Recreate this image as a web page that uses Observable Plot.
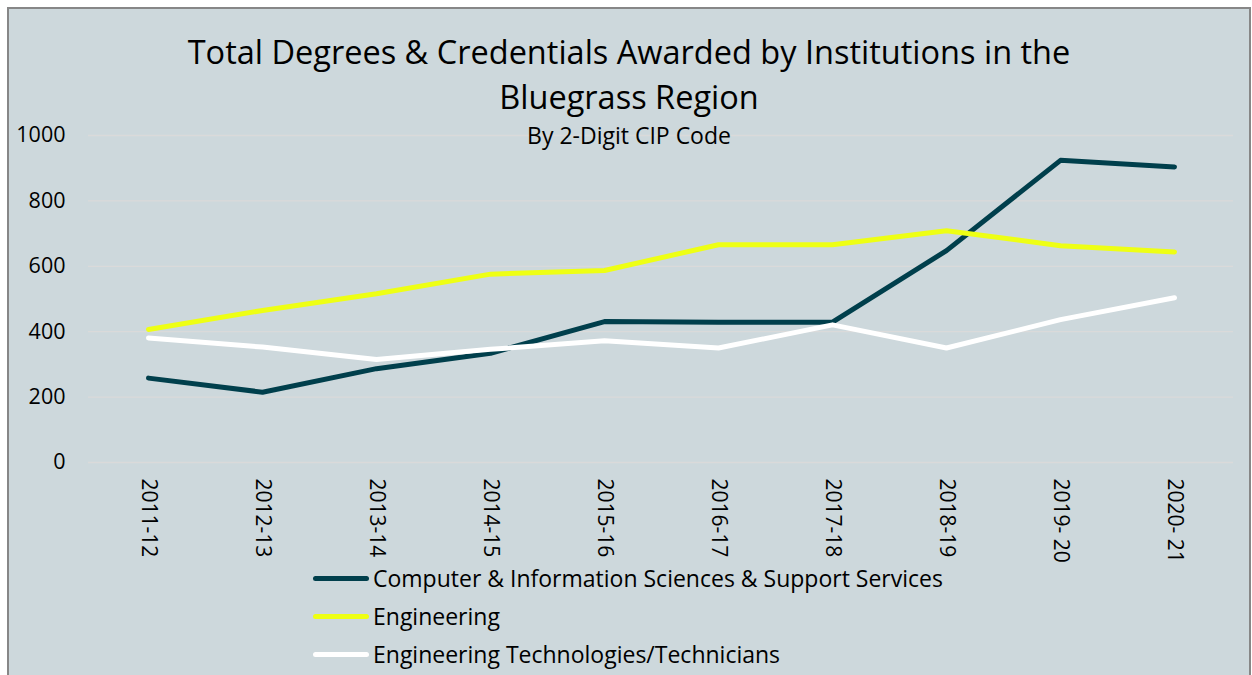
<!DOCTYPE html>
<html>
<head>
<meta charset="utf-8">
<script src="https://cdn.jsdelivr.net/npm/d3@7"></script>
<script src="https://cdn.jsdelivr.net/npm/@observablehq/plot@0.6"></script>
<style>
  html, body { margin: 0; padding: 0; background: #ffffff; }
  body { font-family: "Open Sans", "Noto Sans", sans-serif; color: #000; }
  #frame {
    position: absolute; left: 7px; top: 7px;
    width: 1240px; height: 680px;
    border: 2px solid #878787; background: #cdd8dc; overflow: hidden;
  }
  #title {
    position: absolute; left: 0; width: 100%; top: 21px;
    text-align: center; font-size: 32.5px; line-height: 44.5px;
  }
  #subtitle {
    position: absolute; left: 0; width: 100%; top: 112px;
    text-align: center; font-size: 23px; line-height: 28px;
  }
  #chart { position: absolute; left: 0; top: 0; }
  #legend { position: absolute; left: 304px; top: 550px; }
  .row { display: flex; align-items: center; height: 38px; font-size: 23px; }
  .sw { width: 56px; height: 5px; border-radius: 3px; margin-right: 4px; }
</style>
</head>
<body>
<div id="frame">
  <div id="chart"></div>
  <div id="title">Total Degrees &amp; Credentials Awarded by Institutions in the<br>Bluegrass Region</div>
  <div id="subtitle">By 2-Digit CIP Code</div>
  <div id="legend"></div>
</div>
<script>
const years = ["2011-12","2012-13","2013-14","2014-15","2015-16","2016-17","2017-18","2018-19","2019- 20","2020- 21"];
const computerInfo = [258, 215, 287, 334, 431, 429, 429, 648, 924, 904];
const engineering = [407, 465, 516, 576, 587, 666, 666, 709, 663, 644];
const engTech = [381, 353, 315, 346, 372, 350, 421, 350, 437, 504];
const seriesNames = [
  "Computer & Information Sciences & Support Services",
  "Engineering",
  "Engineering Technologies/Technicians"
];
const seriesColors = ["#003f4c", "#eeff14", "#ffffff"];
const yTicks = [0, 200, 400, 600, 800, 1000];

const seriesValues = [computerInfo, engineering, engTech];
const rows = [];
seriesNames.forEach((name, i) => {
  years.forEach((yr, j) => rows.push({series: name, year: yr, value: seriesValues[i][j]}));
});

const chart = Plot.plot({
  width: 1240,
  height: 556,
  marginTop: 126,
  marginBottom: 103,
  marginLeft: 79,
  marginRight: 16,
  style: { background: "transparent", fontFamily: "'Open Sans', 'Noto Sans', sans-serif", color: "#000" },
  x: { type: "point", domain: years, padding: 0.5, label: null },
  y: { domain: [0, 1000], label: null },
  color: { domain: seriesNames, range: seriesColors },
  marks: [
    Plot.gridY(yTicks, { stroke: "#dadada", strokeOpacity: 1, strokeWidth: 1.3 }),
    Plot.axisY(yTicks, { tickSize: 0, tickPadding: 23, fontSize: 21.5, label: null, fill: "#000", tickFormat: d => String(d) }),
    Plot.axisX({ tickSize: 0, tickRotate: 90, tickPadding: 16, fontSize: 21, label: null, fill: "#000" }),
    Plot.line(rows, {
      x: "year", y: "value", z: "series", stroke: "series",
      strokeWidth: 5, strokeLinecap: "round", strokeLinejoin: "round"
    })
  ]
});
document.getElementById("chart").appendChild(chart);

const legend = document.getElementById("legend");
seriesNames.forEach((name, i) => {
  const row = document.createElement("div");
  row.className = "row";
  const sw = document.createElement("div");
  sw.className = "sw";
  sw.style.background = seriesColors[i];
  const label = document.createElement("span");
  label.textContent = name;
  row.appendChild(sw);
  row.appendChild(label);
  legend.appendChild(row);
});
</script>
</body>
</html>
